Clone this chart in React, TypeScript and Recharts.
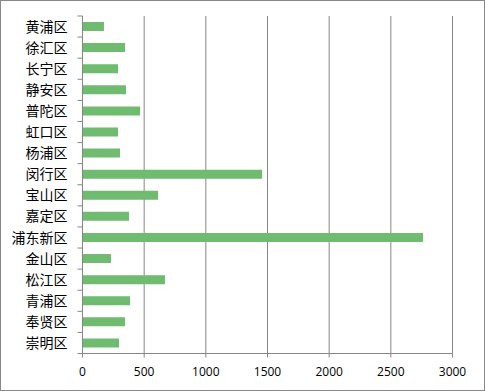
import React from "react";
import { BarChart, Bar, XAxis, YAxis, CartesianGrid } from "recharts";

const districts = [
  "黄浦区",
  "徐汇区",
  "长宁区",
  "静安区",
  "普陀区",
  "虹口区",
  "杨浦区",
  "闵行区",
  "宝山区",
  "嘉定区",
  "浦东新区",
  "金山区",
  "松江区",
  "青浦区",
  "奉贤区",
  "崇明区",
];
const counts = [174, 345, 288, 353, 467, 288, 304, 1457, 613, 377, 2761, 231, 669, 385, 345, 296];
const xTicks = [0, 500, 1000, 1500, 2000, 2500, 3000];

const data = districts.map((name, i) => ({ name, value: counts[i] }));

const GRAY = "#868686";
const PLOT_H = 337.5; // 图表区高度
const band = PLOT_H / districts.length;

// 类别轴标签 + 在类别边界处画刻度线 (Excel 风格)
const CategoryTick = (props: any) => {
  const { x, y, payload, index } = props;
  const axisX = x + 15;
  const last = index === districts.length - 1;
  return (
    <g>
      <line x1={axisX - 5} x2={axisX} y1={y - band / 2} y2={y - band / 2} stroke={GRAY} />
      {last && <line x1={axisX - 5} x2={axisX} y1={y + band / 2} y2={y + band / 2} stroke={GRAY} />}
      <text
        x={x}
        y={y}
        dy="0.36em"
        textAnchor="end"
        fontSize={14}
        fontFamily='"Noto Sans CJK SC", sans-serif'
        fill="#000"
      >
        {payload.value}
      </text>
    </g>
  );
};

export default function App() {
  return (
    <div
      style={{
        position: "fixed",
        left: 0,
        top: 0,
        width: 483,
        height: 389,
        border: "1px solid #898989",
        background: "#fff",
      }}
    >
      <BarChart
        width={483}
        height={389}
        data={data}
        layout="vertical"
        margin={{ top: 15, right: 31.5, bottom: 0, left: 0 }}
        barCategoryGap="29%"
      >
        <CartesianGrid horizontal={false} vertical stroke={GRAY} />
        <XAxis
          type="number"
          domain={[0, 3000]}
          ticks={xTicks}
          height={36.5}
          stroke={GRAY}
          tickSize={4}
          tickMargin={10}
          tick={{ fill: "#000", fontSize: 12, fontFamily: '"Open Sans", sans-serif' }}
          interval={0}
        />
        <YAxis
          type="category"
          dataKey="name"
          width={81.5}
          stroke={GRAY}
          tickLine={false}
          tickSize={5}
          tickMargin={10}
          interval={0}
          tick={<CategoryTick />}
        />
        <Bar dataKey="value" fill="#6fbb6f" barSize={9} isAnimationActive={false} />
      </BarChart>
    </div>
  );
}
